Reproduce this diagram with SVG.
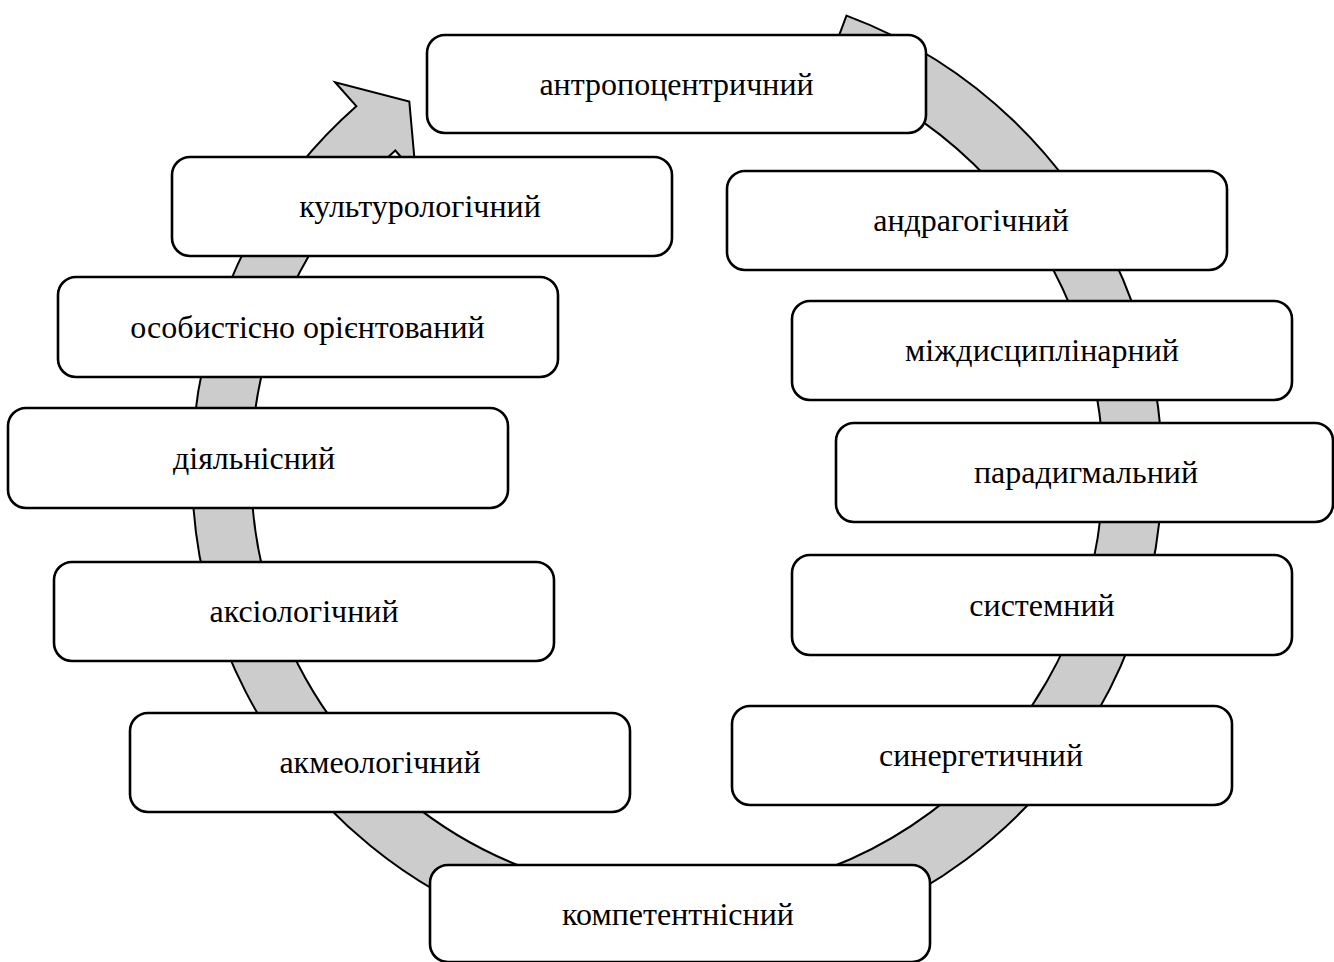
<svg xmlns="http://www.w3.org/2000/svg" width="1334" height="962" viewBox="0 0 1334 962">
<style>
.box{fill:#ffffff;stroke:#000000;stroke-width:2.6}
.lbl{font-family:"Liberation Serif","Times New Roman",serif;font-size:32px;fill:#000000;text-anchor:middle}
.band{fill:#cccccc;stroke:#000000;stroke-width:2;stroke-linejoin:miter}
</style>
<rect width="1334" height="962" fill="#ffffff"/>
<g id="connectors">
<path class="band" d="M846.5,15.6 A485,485 0 1 1 356.3,106.2 L335.1,82.2 L409.3,101.5 L415.8,173.7 L395.3,150.5 A426,426 0 1 0 825.8,70.8 Z"/>
</g>
<g id="n1"><rect class="box" x="427" y="35" width="499" height="98" rx="18"/><text class="lbl" x="676.5" y="95">антропоцентричний</text></g>
<g id="n2"><rect class="box" x="727" y="171" width="500" height="99" rx="18"/><text class="lbl" x="971" y="231">андрагогічний</text></g>
<g id="n3"><rect class="box" x="792" y="301" width="500" height="99" rx="18"/><text class="lbl" x="1042" y="361">міждисциплінарний</text></g>
<g id="n4"><rect class="box" x="836" y="423" width="497" height="99" rx="18"/><text class="lbl" x="1086" y="483">парадигмальний</text></g>
<g id="n5"><rect class="box" x="792" y="555" width="500" height="100" rx="18"/><text class="lbl" x="1042" y="616">системний</text></g>
<g id="n6"><rect class="box" x="732" y="706" width="500" height="99" rx="18"/><text class="lbl" x="981" y="766">синергетичний</text></g>
<g id="n7"><rect class="box" x="430" y="865" width="500" height="97" rx="18"/><text class="lbl" x="678" y="925">компетентнісний</text></g>
<g id="n8"><rect class="box" x="130" y="713" width="500" height="99" rx="18"/><text class="lbl" x="380" y="773">акмеологічний</text></g>
<g id="n9"><rect class="box" x="54" y="562" width="500" height="99" rx="18"/><text class="lbl" x="304" y="622">аксіологічний</text></g>
<g id="n10"><rect class="box" x="8" y="408" width="500" height="100" rx="18"/><text class="lbl" x="254" y="469">діяльнісний</text></g>
<g id="n11"><rect class="box" x="58" y="277" width="500" height="100" rx="18"/><text class="lbl" x="307.5" y="338">особистісно орієнтований</text></g>
<g id="n12"><rect class="box" x="172" y="157" width="500" height="99" rx="18"/><text class="lbl" x="420" y="217">культурологічний</text></g>
</svg>
